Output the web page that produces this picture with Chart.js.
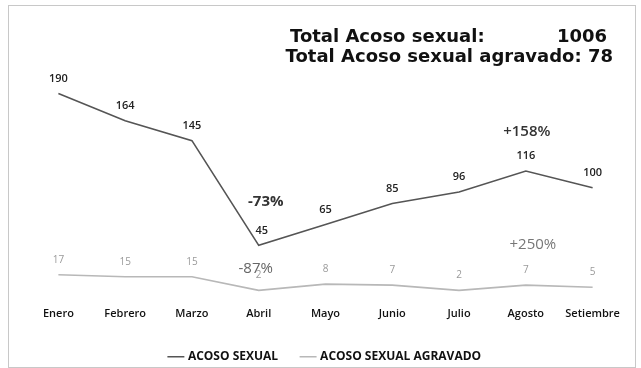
<!DOCTYPE html>
<html lang="es">
<head>
    <meta charset="UTF-8">
    <title>Acoso sexual por mes</title>
    <script src="https://cdn.jsdelivr.net/npm/chart.js"></script>
    <style>
        body { margin: 0; background: #fff; }
    </style>
</head>
<body>
    <canvas id="chart1" width="641" height="368"></canvas>
    <script>
        // datos
        const meses = ['Enero', 'Febrero', 'Marzo', 'Abril', 'Mayo', 'Junio', 'Julio', 'Agosto', 'Setiembre'];
        const acosoSexual = [190, 164, 145, 45, 65, 85, 96, 116, 100];
        const acosoAgravado = [17, 15, 15, 2, 8, 7, 2, 7, 5];
        const totalAcoso = 1006;
        const totalAgravado = 78;
        // variaciones marcadas: [serie, indice del mes, texto]
        const variaciones = [
            [0, 3, '-73%'],
            [0, 7, '+158%'],
            [1, 3, '-87%'],
            [1, 7, '+250%']
        ];

        // etiquetas de valores + variaciones + titulo
        const etiquetasPlugin = {
            id: 'etiquetas',
            afterDatasetsDraw(chart) {
                const ctx = chart.ctx;
                ctx.save();
                ctx.textAlign = 'center';
                ctx.textBaseline = 'middle';
                chart.data.datasets.forEach((ds, i) => {
                    const meta = chart.getDatasetMeta(i);
                    ctx.fillStyle = i === 0 ? '#222' : '#9a9a9a';
                    ctx.font = (i === 0 ? '600 11px' : '10px') + ' "Open Sans"';
                    meta.data.forEach((pt, j) => {
                        const dx = (i === 0 && j === 3) ? 3 : 0;
                        ctx.fillText(ds.data[j], pt.x + dx, pt.y - 15);
                    });
                });
                // [dx, dy, peso, color]
                const estilos = {
                    '-73%': [7, -44, 'bold', '#333'],
                    '+158%': [1, -39, '600', '#333'],
                    '-87%': [-3, -22, 'normal', '#666'],
                    '+250%': [7, -40, 'normal', '#777']
                };
                variaciones.forEach(([s, j, txt]) => {
                    const pt = chart.getDatasetMeta(s).data[j];
                    const e = estilos[txt];
                    ctx.fillStyle = e[3];
                    ctx.font = e[2] + ' 15px "Open Sans"';
                    ctx.fillText(txt, pt.x + e[0], pt.y + e[1]);
                });

                ctx.textAlign = 'left';
                ctx.fillStyle = '#111';
                ctx.font = 'bold 18px "DejaVu Sans"';
                ctx.fillText('Total Acoso sexual:', 290, 37);
                ctx.textAlign = 'right';
                ctx.fillText(String(totalAcoso), 607, 37);
                ctx.fillText('Total Acoso sexual agravado: ' + totalAgravado, 613, 57);
                ctx.restore();
            },
            beforeDraw(chart) {
                const ctx = chart.ctx;
                ctx.save();
                ctx.strokeStyle = '#c8c8c8';
                ctx.lineWidth = 1;
                ctx.strokeRect(8.5, 5.5, 627, 362);
                ctx.restore();
            }
        };

        const ctx1 = document.getElementById('chart1').getContext('2d');
        new Chart(ctx1, {
            type: 'line',
            data: {
                labels: meses,
                datasets: [{
                    label: 'ACOSO SEXUAL',
                    data: acosoSexual,
                    borderColor: '#555',
                    backgroundColor: '#555',
                    borderWidth: 1.6,
                    pointRadius: 0,
                    tension: 0
                }, {
                    label: 'ACOSO SEXUAL AGRAVADO',
                    data: acosoAgravado,
                    borderColor: '#b8b8b8',
                    backgroundColor: '#b8b8b8',
                    borderWidth: 1.6,
                    pointRadius: 0,
                    tension: 0
                }]
            },
            options: {
                responsive: false,
                animation: false,
                layout: { padding: { top: 83, left: 25, right: 15, bottom: -4.7 } },
                scales: {
                    y: { display: false, min: 0, max: 200 },
                    x: {
                        offset: true,
                        grid: { display: false },
                        border: { display: false },
                        ticks: {
                            padding: 6.5,
                            color: '#111',
                            font: { family: 'Open Sans', size: 11, weight: '600' }
                        }
                    }
                },
                plugins: {
                    title: { display: false },
                    tooltip: { enabled: false },
                    legend: {
                        position: 'bottom',
                        labels: {
                            usePointStyle: true,
                            pointStyle: 'line',
                            boxWidth: 36,
                            padding: 24,
                            color: '#111',
                            font: { family: 'Open Sans', size: 12, weight: 'bold' }
                        }
                    }
                }
            },
            plugins: [etiquetasPlugin]
        });
    </script>
</body>
</html>
